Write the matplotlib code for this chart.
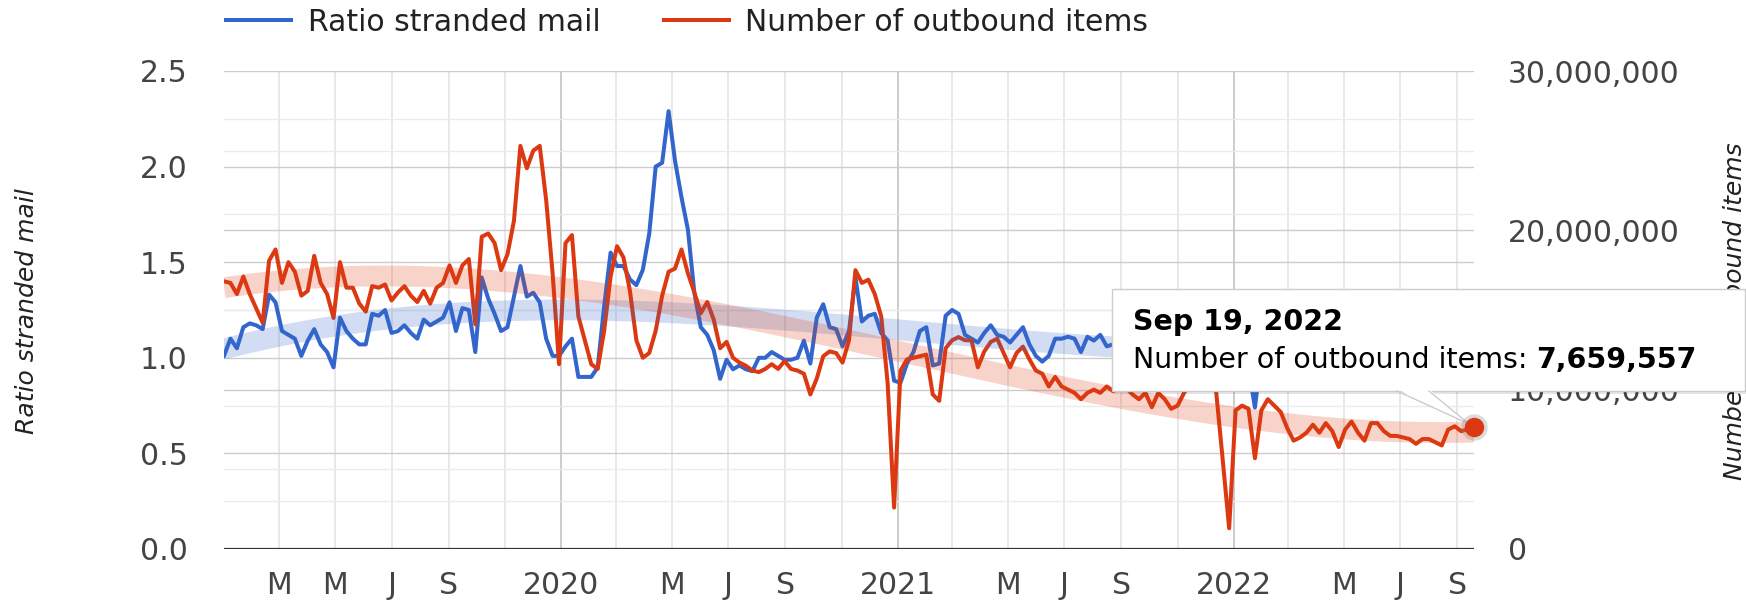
import matplotlib
matplotlib.use("Agg")
import matplotlib.pyplot as plt
import matplotlib.dates as mdates
from matplotlib.lines import Line2D
from matplotlib.patches import Rectangle, Polygon
from matplotlib.ticker import FuncFormatter
from matplotlib.transforms import blended_transform_factory
import numpy as np
import pandas as pd

# weekly values, Monday 31 Dec 2018 .. Monday 19 Sep 2022
first_week = "2018-12-31"

ratio_stranded = [
    1.01, 1.10, 1.05, 1.16, 1.18, 1.17, 1.15, 1.33, 1.29, 1.14,
    1.12, 1.10, 1.01, 1.09, 1.15, 1.07, 1.03, 0.95, 1.21, 1.14,
    1.10, 1.07, 1.07, 1.23, 1.22, 1.25, 1.13, 1.14, 1.17, 1.13,
    1.10, 1.20, 1.17, 1.19, 1.21, 1.29, 1.14, 1.26, 1.25, 1.03,
    1.42, 1.31, 1.23, 1.14, 1.16, 1.32, 1.48, 1.32, 1.34, 1.29,
    1.10, 1.01, 1.01, 1.06, 1.10, 0.90, 0.90, 0.90, 0.95, 1.27,
    1.55, 1.48, 1.48, 1.41, 1.38, 1.46, 1.65, 2.00, 2.02, 2.29,
    2.03, 1.84, 1.67, 1.34, 1.16, 1.12, 1.04, 0.89, 0.99, 0.94,
    0.96, 0.94, 0.93, 1.00, 1.00, 1.03, 1.01, 0.99, 0.99, 1.00,
    1.09, 0.97, 1.21, 1.28, 1.16, 1.15, 1.06, 1.14, 1.42, 1.19,
    1.22, 1.23, 1.13, 1.09, 0.88, 0.87, 0.97, 1.03, 1.14, 1.16,
    0.96, 0.97, 1.22, 1.25, 1.23, 1.12, 1.10, 1.08, 1.13, 1.17,
    1.12, 1.11, 1.08, 1.12, 1.16, 1.07, 1.01, 0.98, 1.01, 1.10,
    1.10, 1.11, 1.10, 1.03, 1.11, 1.09, 1.12, 1.06, 1.07,
    1.08, 1.10, 1.06, 1.09, 1.12, 1.07, 1.05, 1.10, 1.13, 1.08,
    1.04, 1.09, 1.11, 1.06, 1.02, 0.98, 1.05, 1.08, 1.04, 1.00, 0.95,
    0.74,
    1.02, 1.06, 1.09, 1.05, 1.08, 1.10, 1.06, 1.04, 1.08, 1.11,
    1.07, 1.05, 1.09, 1.06, 1.03, 1.07, 1.10, 1.08, 1.05, 1.04,
    1.08, 1.06, 1.09, 1.07, 1.05, 1.08, 1.10, 1.06, 1.04, 1.07,
    1.09, 1.06, 1.05, 1.08,
]

# outbound items, millions
outbound_millions = [
    16.8, 16.7, 16.0, 17.1, 16.0, 15.1, 14.2, 18.1, 18.8, 16.7,
    18.0, 17.4, 15.9, 16.2, 18.4, 16.7, 16.0, 14.5, 18.0, 16.4,
    16.4, 15.4, 14.9, 16.5, 16.4, 16.6, 15.6, 16.1, 16.5, 15.9,
    15.5, 16.2, 15.4, 16.4, 16.7, 17.8, 16.7, 17.8, 18.2, 14.1,
    19.6, 19.8, 19.2, 17.5, 18.5, 20.6, 25.3, 23.9, 25.0, 25.3,
    21.9, 17.3, 11.6, 19.2, 19.7, 14.6, 13.1, 11.6, 11.3, 13.7,
    17.1, 19.0, 18.3, 16.2, 13.1, 12.0, 12.3, 13.7, 15.9, 17.4,
    17.6, 18.8, 17.3, 16.1, 14.8, 15.5, 14.4, 12.6, 13.0, 12.0,
    11.7, 11.5, 11.2, 11.1, 11.3, 11.6, 11.3, 11.8, 11.3, 11.2,
    11.0, 9.7, 10.7, 12.1, 12.4, 12.3, 11.7, 13.1, 17.5, 16.7,
    16.9, 16.0, 14.6, 10.4, 2.6, 11.2, 11.9, 12.0, 12.1, 12.2,
    9.7, 9.3, 12.6, 13.1, 13.3, 13.1, 13.1, 11.4, 12.4, 13.0,
    13.2, 12.3, 11.4, 12.3, 12.7, 11.9, 11.2, 11.0, 10.2, 10.8,
    10.2, 10.0, 9.8, 9.4, 9.8, 10.0, 9.8, 10.2, 9.9, 10.2,
    10.1, 9.7, 9.4, 9.8, 8.9, 9.8, 9.4, 8.8, 9.0, 9.8,
    10.4, 11.0, 11.4, 11.0, 9.8, 5.6, 1.3, 8.7, 9.0, 8.8,
    5.7, 8.7, 9.4, 9.0, 8.6, 7.6, 6.8, 7.0, 7.3, 7.8,
    7.3, 7.9, 7.4, 6.4, 7.5, 8.0, 7.3, 6.8, 7.9, 7.9,
    7.4, 7.1, 7.1, 7.0, 6.9, 6.6, 6.9, 6.9, 6.7, 6.5,
    7.5, 7.7, 7.4, 7.5, 7.659557,
]

tick_labels = ['M', 'M', 'J', 'S', '', '2020', '', 'M', 'J', 'S', '',
               '2021', '', 'M', 'J', 'S', '', '2022', '', 'M', 'J', 'S']
left_ticks = [0.0, 0.5, 1.0, 1.5, 2.0, 2.5]
right_ticks = [0, 10_000_000, 20_000_000, 30_000_000]

tooltip_title = "Sep 19, 2022"
tooltip_label = "Number of outbound items: "

BLUE = "#3366cc"
RED = "#dc3912"
TXT = "#444444"

dates = pd.date_range(first_week, periods=len(ratio_stranded), freq="7D")
ratio = np.array(ratio_stranded)
outbound = np.round(np.array(outbound_millions) * 1e6)
tick_dates = pd.date_range("2019-03-01", "2022-09-01", freq="2MS")

W, H = 1746, 600
fig = plt.figure(figsize=(W / 100, H / 100), dpi=100)
ax = fig.add_axes([224 / W, 1 - 549 / H, (1474 - 224) / W, (549 - 71) / H])
ax2 = ax.twinx()

# series
ax.plot(dates, ratio, color=BLUE, lw=2.9, zorder=2)
ax2.plot(dates, outbound, color=RED, lw=2.9, zorder=2)

# polynomial trendlines (degree 3), drawn as wide translucent bands
t = np.arange(len(dates))
blue_trend = np.polyval(np.polyfit(t, ratio, 3), t)
red_trend = np.polyval(np.polyfit(t, outbound, 3), t)
ax2.plot(dates, blue_trend, color=BLUE, lw=15, alpha=0.22, solid_capstyle='butt',
         transform=ax.transData, zorder=3)
ax2.plot(dates, red_trend, color=RED, lw=15, alpha=0.22, solid_capstyle='butt', zorder=3)

# axes
ax.set_xlim(dates[0], dates[-1])
ax.set_ylim(0, 2.5)
ax2.set_ylim(0, 30_000_000)
for a in (ax, ax2):
    for s in a.spines.values():
        s.set_visible(False)

ax.set_yticks(left_ticks)
ax.set_yticklabels([f"{v:.1f}" for v in left_ticks])
ax.set_yticks(np.arange(0.25, 2.5, 0.5), minor=True)
ax2.set_yticks(right_ticks)
ax2.yaxis.set_major_formatter(FuncFormatter(lambda v, p: f"{int(v):,}"))

ax.set_xticks(tick_dates)
ax.set_xticklabels(tick_labels)

ax.tick_params(axis='y', which='both', length=0, pad=26, labelsize=21.5, labelcolor=TXT)
ax2.tick_params(axis='y', length=0, pad=24.5, labelsize=21.5, labelcolor=TXT)
ax.tick_params(axis='x', length=0, pad=15.5, labelsize=21.5, labelcolor=TXT)

ax.set_axisbelow(True)
ax.grid(axis='y', which='major', color='#cccccc', lw=1.0)
ax.grid(axis='y', which='minor', color='#ebebeb', lw=1.0)
ax.grid(axis='x', which='major', color='#e8e8e8', lw=1.4)
for line, lab in zip(ax.get_xgridlines(), tick_labels):
    if lab.isdigit():
        line.set_color('#cccccc')

# right axis gridlines, drawn on the left axes so they stay under the series
trans = blended_transform_factory(ax.transAxes, ax2.transData)
for v in [5e6, 10e6, 15e6, 20e6, 25e6]:
    col = '#cccccc' if v % 10e6 == 0 else '#ebebeb'
    ax.add_line(Line2D([0, 1], [v, v], transform=trans, color=col, lw=1.0, zorder=0.6))
ax.axhline(0, color='#333333', lw=1.6, zorder=1.5)

ax.set_xlim(dates[0], dates[-1])
ax.set_ylim(0, 2.5)
ax2.set_ylim(0, 30_000_000)

# overlay for legend, titles and tooltip (pixel coordinates)
ov = fig.add_axes([0, 0, 1, 1], zorder=10)
ov.set_xlim(0, W)
ov.set_ylim(H, 0)
ov.axis('off')

ov.plot([224, 293], [20, 20], color=BLUE, lw=2.9, solid_capstyle='butt')
ov.text(308, 31, "Ratio stranded mail", fontsize=21.5, color='#222222', va='baseline')
ov.plot([662, 731], [20, 20], color=RED, lw=2.9, solid_capstyle='butt')
ov.text(745, 31, "Number of outbound items", fontsize=21.5, color='#222222', va='baseline')

ov.text(27, 311, "Ratio stranded mail", rotation=90, style='italic', fontsize=18,
        color='#222222', ha='center', va='center', zorder=1)
ov.text(1735, 311, "Number of outbound items", rotation=90, style='italic', fontsize=18,
        color='#222222', ha='center', va='center', zorder=1)

# tooltip
ov.add_patch(Rectangle((1114, 291), 633, 103, fc='black', alpha=0.10, lw=0, zorder=2))
ov.add_patch(Rectangle((1112, 289), 633, 102, fc='white', ec='#cccccc', lw=1, zorder=3))
ov.add_patch(Polygon([(1397, 389), (1429, 389), (1469, 424)], closed=True,
                     fc='white', ec='none', zorder=3.5))
ov.plot([1397, 1469], [391, 424], color='#cccccc', lw=1, zorder=3.6)
ov.plot([1429, 1469], [391, 424], color='#cccccc', lw=1, zorder=3.6)

ov.text(1133, 330, tooltip_title, fontsize=20.5, fontweight='bold', color='black',
        va='baseline', zorder=4)
t1 = ov.text(1133, 368, tooltip_label, fontsize=20.5, color='black', va='baseline', zorder=4)
ov.annotate(f"{int(outbound[-1]):,}", xy=(1, 0), xycoords=t1, fontsize=20.5,
            fontweight='bold', color='black', va='bottom', ha='left', zorder=4)

# highlighted last point
xd = mdates.date2num(dates[-1])
ov.plot(xd, outbound[-1], 'o', ms=19, color='#888888', alpha=0.3, mec='none',
        transform=ax2.transData, clip_on=False, zorder=5)
ov.plot(xd, outbound[-1], 'o', ms=14, color=RED, mec='none',
        transform=ax2.transData, clip_on=False, zorder=6)

fig.savefig("out.png", dpi=100)
